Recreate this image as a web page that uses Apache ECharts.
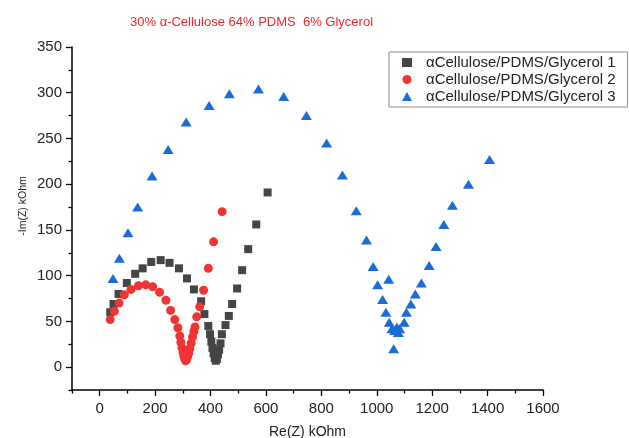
<!DOCTYPE html>
<html>
<head>
<meta charset="utf-8">
<script src="https://cdn.jsdelivr.net/npm/echarts@6/dist/echarts.min.js"></script>
<style>html,body{margin:0;padding:0;background:#fff;}#c{width:629px;height:438px;}</style>
</head>
<body>
<div id="c"></div>
<script>
const titleText = '30% α-Cellulose 64% PDMS  6% Glycerol';
const seriesNames = ['αCellulose/PDMS/Glycerol 1', 'αCellulose/PDMS/Glycerol 2', 'αCellulose/PDMS/Glycerol 3'];
const xName = 'Re(Z) kOhm';
const yName = '-Im(Z) kOhm';
const xTickLabels = [0, 200, 400, 600, 800, 1000, 1200, 1400, 1600];
const xMinorTicks = [-100, 100, 300, 500, 700, 900, 1100, 1300, 1500];
const yTickLabels = [0, 50, 100, 150, 200, 250, 300, 350];
const yMinorTicks = [-25, 25, 75, 125, 175, 225, 275, 325];

const re1 = [38, 50, 68, 98, 128, 155, 186, 220, 252, 286, 315, 340, 366, 378, 392, 398, 403, 407, 411, 415, 419, 423, 427, 431, 436, 441, 454, 466, 478, 496, 514, 536, 565, 606];
const im1 = [60, 69, 80, 92, 102, 108, 115, 117, 114, 108, 97, 85, 72, 58, 45, 36, 28, 21, 15, 10, 7, 9, 14, 19, 26, 36, 46, 56, 69, 86, 106, 129, 156, 191];

const re2 = [38, 53, 70, 89, 113, 140, 166, 191, 216, 239, 256, 271, 282, 289, 293, 297, 301, 304, 307, 310, 313, 317, 321, 325, 330, 335, 340, 344, 350, 361, 375, 392, 411, 442];
const im2 = [52, 61, 70, 79, 85, 89, 90, 88, 82, 73, 62, 52, 43, 34, 27, 21, 16, 12, 9, 7, 8, 11, 15, 20, 26, 33, 39, 44, 55, 66, 84, 108, 137, 170];

const re3 = [48, 71, 102, 137, 189, 247, 312, 395, 468, 573, 664, 746, 819, 876, 926, 963, 987, 1003, 1021, 1033, 1045, 1055, 1061, 1043, 1065, 1073, 1078, 1083, 1099, 1107, 1123, 1139, 1161, 1189, 1214, 1242, 1273, 1331, 1407];
const im3 = [97, 119, 147, 175, 209, 238, 268, 286, 299, 304, 296, 275, 245, 210, 171, 139, 110, 90, 74, 60, 49, 42, 20, 96, 40, 44, 38, 42, 49, 60, 69, 80, 92, 111, 132, 156, 177, 200, 227];

const colors = ['#454545', '#f03434', '#1b6bd9'];
const symbols = ['rect', 'circle', 'triangle'];
const sizes = [8, 9, [11, 9]];

function pairs(xs, ys) { return xs.map((x, i) => [x, ys[i]]); }
const allData = [pairs(re1, im1), pairs(re2, im2), pairs(re3, im3)];

const font = 'Liberation Sans, Arial, sans-serif';
const chart = echarts.init(document.getElementById('c'), null, {renderer: 'canvas'});

const axisBase = {
  type: 'value',
  splitLine: {show: false}
};
const fmt = v => String(v);

chart.setOption({
  animation: false,
  backgroundColor: '#ffffff',
  title: {
    text: titleText,
    left: 125, top: 11,
    textStyle: {color: '#e8282b', fontSize: 13, fontWeight: 'normal', fontFamily: font}
  },
  legend: {
    orient: 'vertical',
    left: 389, top: 52,
    padding: [2, 12, 2, 13],
    itemGap: 0,
    itemWidth: 10, itemHeight: 9,
    borderColor: '#8a8a8a', borderWidth: 1,
    data: seriesNames.map((n, i) => ({name: n, icon: symbols[i]})),
    textStyle: {fontSize: 15, color: '#222', fontFamily: font, lineHeight: 17, padding: [0, 0, 0, 9]}
  },
  grid: {left: 72, right: 86, top: 47, bottom: 48, outerBoundsMode: 'none'},
  graphic: [{
    type: 'text',
    x: 23, y: 206,
    rotation: Math.PI / 2,
    style: {text: yName, fontSize: 10.5, fill: '#222', fontFamily: font, align: 'center', verticalAlign: 'middle'}
  }],
  xAxis: [
    Object.assign({}, axisBase, {
      min: -100, max: 1600, position: 'bottom',
      name: xName, nameLocation: 'middle', nameGap: 35,
      nameTextStyle: {fontSize: 14, color: '#222', fontFamily: font},
      axisLine: {show: true, onZero: false, lineStyle: {color: '#000', width: 1.5}},
      axisTick: {show: true, customValues: xTickLabels, length: 6, lineStyle: {color: '#000', width: 1.3}},
      axisLabel: {customValues: xTickLabels, formatter: fmt, margin: 11, fontSize: 15, color: '#222', fontFamily: font}
    }),
    Object.assign({}, axisBase, {
      min: -100, max: 1600, position: 'bottom', offset: 0,
      axisLine: {show: false, onZero: false},
      axisTick: {show: true, customValues: xMinorTicks, length: 3.5, lineStyle: {color: '#000', width: 1.3}},
      axisLabel: {show: false}
    })
  ],
  yAxis: [
    Object.assign({}, axisBase, {
      min: -25, max: 350, position: 'left',
      axisLine: {show: true, onZero: false, lineStyle: {color: '#000', width: 1.5}},
      axisTick: {show: true, customValues: yTickLabels, length: 6, lineStyle: {color: '#000', width: 1.3}},
      axisLabel: {customValues: yTickLabels, formatter: fmt, margin: 10, fontSize: 15, color: '#222', fontFamily: font}
    }),
    Object.assign({}, axisBase, {
      min: -25, max: 350, position: 'left', offset: 0,
      axisLine: {show: false, onZero: false},
      axisTick: {show: true, customValues: yMinorTicks, length: 3.5, lineStyle: {color: '#000', width: 1.3}},
      axisLabel: {show: false}
    })
  ],
  series: allData.map((d, i) => ({
    name: seriesNames[i],
    type: 'scatter',
    xAxisIndex: 0, yAxisIndex: 0,
    symbol: symbols[i],
    symbolSize: sizes[i],
    itemStyle: {color: colors[i], opacity: 1},
    data: d
  }))
});
</script>
</body>
</html>
